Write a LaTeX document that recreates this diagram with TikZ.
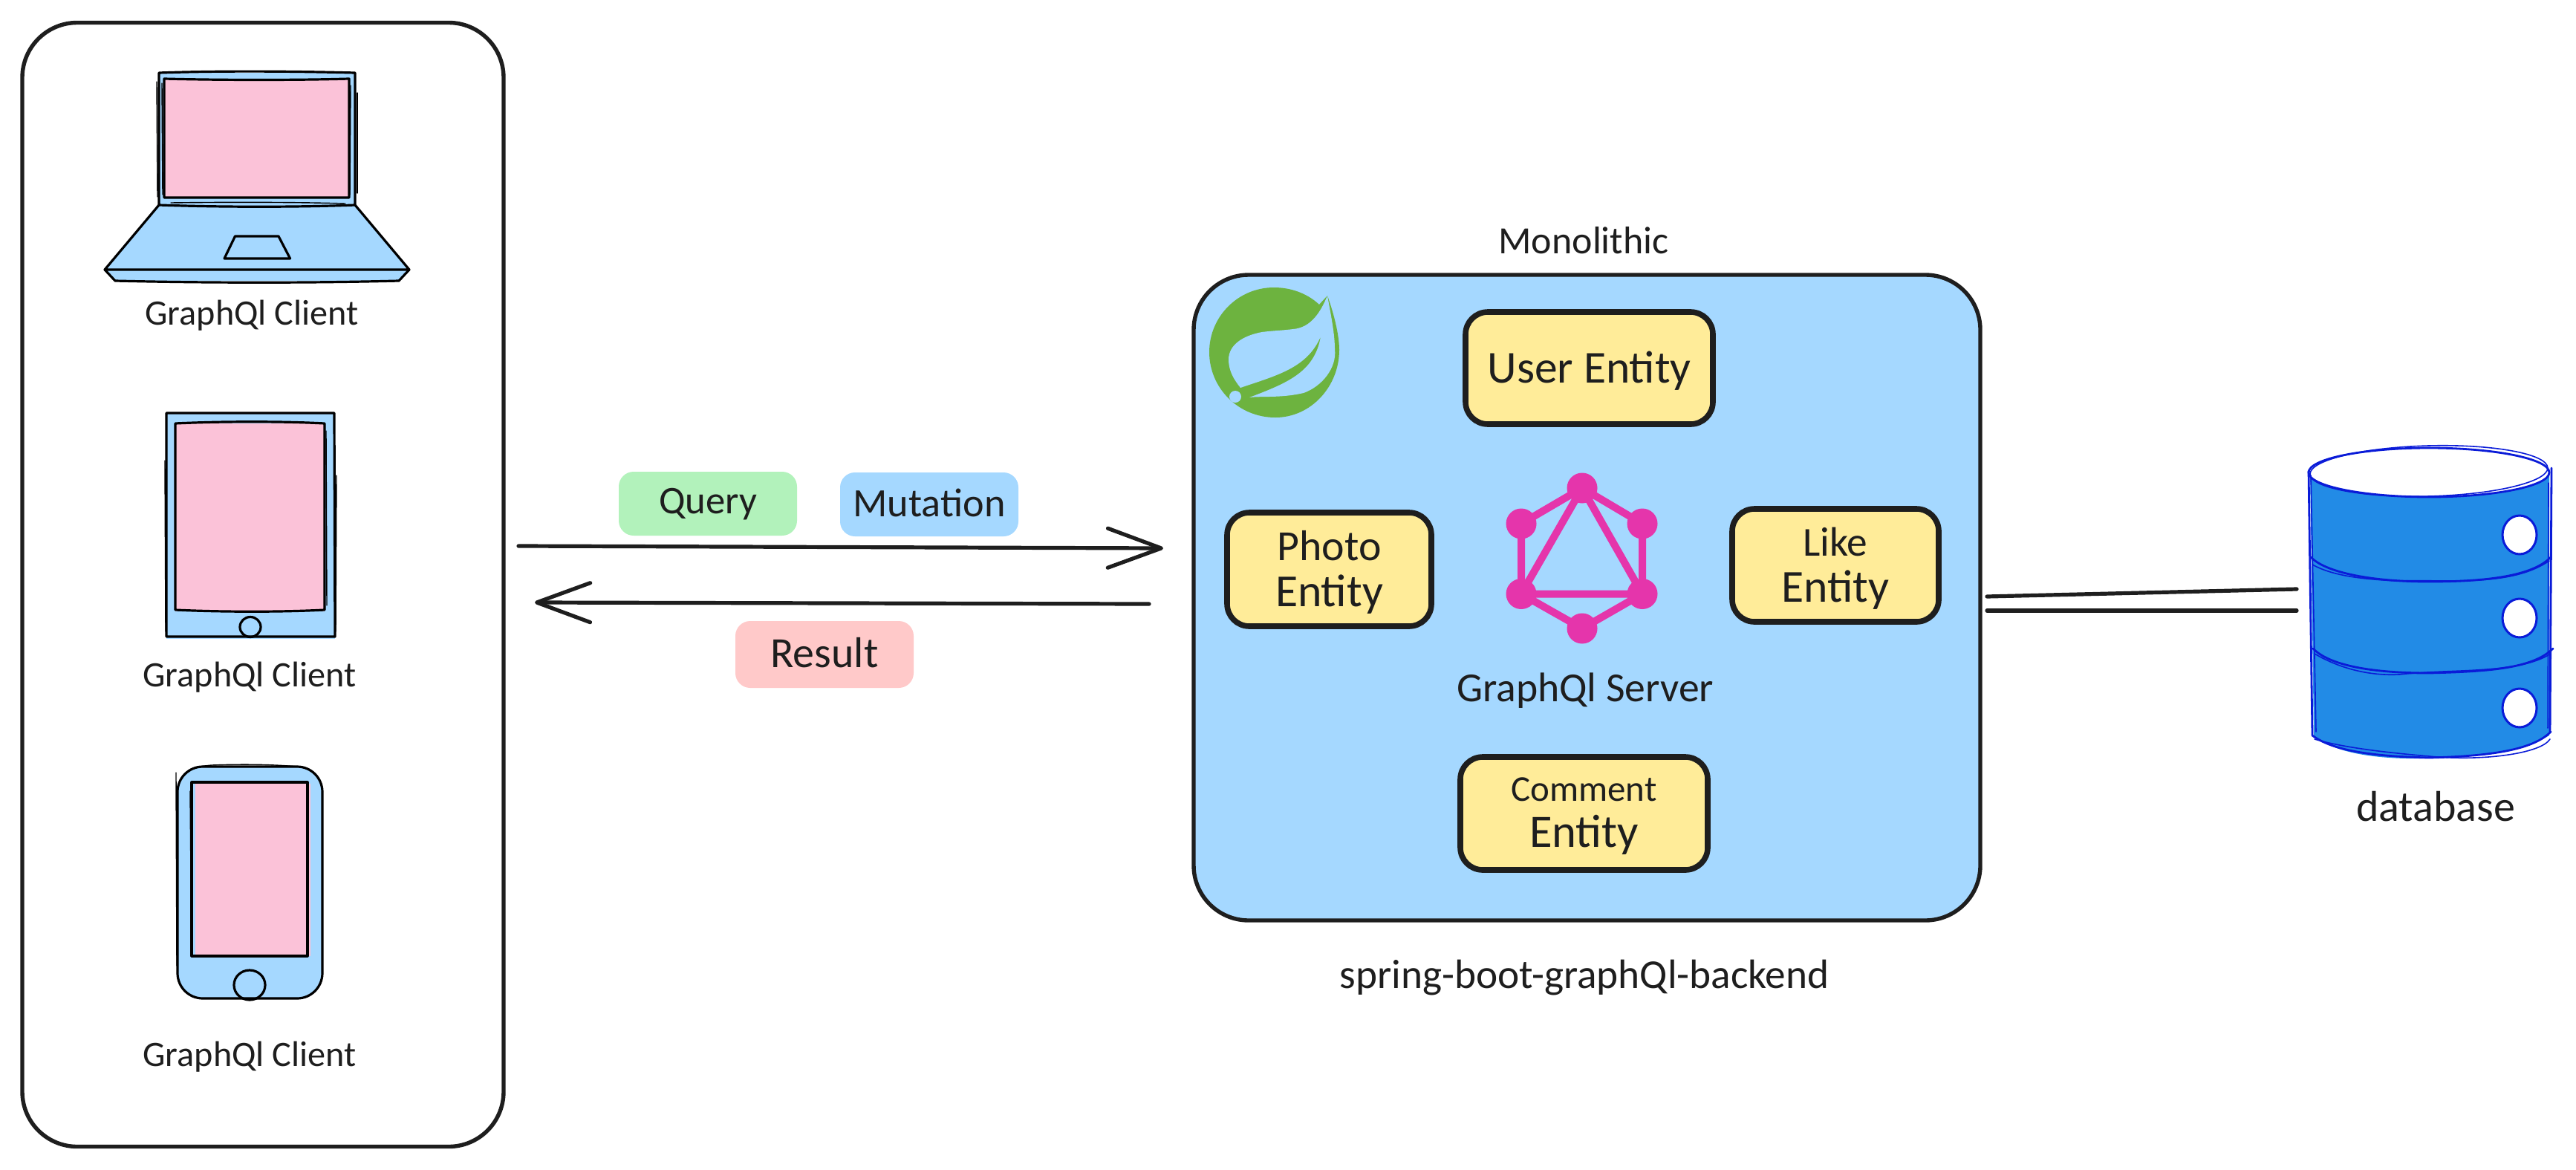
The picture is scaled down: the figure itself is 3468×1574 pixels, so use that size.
\documentclass[tikz,border=0pt]{standalone}
\usepackage{fontspec}
\setmainfont{Carlito}
\usetikzlibrary{arrows.meta}
\definecolor{ink}{HTML}{1E1E1E}
\definecolor{lblue}{HTML}{A5D8FF}
\definecolor{lpink}{HTML}{FBC2D8}
\definecolor{lyellow}{HTML}{FFEC99}
\definecolor{lgreen}{HTML}{B2F2BB}
\definecolor{lred}{HTML}{FFC9C9}
\definecolor{gqlpink}{HTML}{E535AB}
\definecolor{springgreen}{HTML}{6DB33F}
\definecolor{dbfill}{HTML}{228BE6}
\definecolor{dbline}{HTML}{0A1BD8}
\newcommand\twd[2]{\raisebox{-2pt}[\height][\depth]{\resizebox{#1pt}{!}{#2}}}
\tikzset{
  x=0.5pt,y=-0.5pt,
  lbl/.style={anchor=base,inner sep=0pt,text=ink,font=\fontsize{20}{24}\selectfont},
  bigbox/.style={draw=ink,rectangle,inner sep=0pt,line width=2.7pt,rounded corners=37pt},
  entity/.style={draw=ink,fill=lyellow,rectangle,inner sep=0pt,line width=3.8pt,rounded corners=15pt,text=ink,align=center,font=\fontsize{20}{31pt}\selectfont},
  chip/.style={rectangle,inner sep=0pt,rounded corners=10pt,text=ink,minimum width=120pt,font=\fontsize{20}{24}\selectfont,text depth=0pt},
  conn/.style={draw=ink,line width=2.6pt,line cap=round},
  dev/.style={draw=black,line width=1.6pt,line join=round,line cap=round},
  devthin/.style={draw=black,line width=0.7pt,line cap=round},
  gql/.style={draw=gqlpink,line width=5pt},
  gqldot/.style={fill=gqlpink},
  dbs/.style={draw=dbline,line width=1.4pt,line cap=round},
  dbt/.style={draw=dbline,line width=0.8pt,line cap=round},
  bar/.style={-{Straight Barb[length=36pt,width=26.5pt,round]}},
}
\begin{document}
\begin{tikzpicture}
\useasboundingbox (0,0) rectangle (3468,1574);
% ---- clients frame
\node[bigbox,minimum width=324pt,minimum height=756.5pt] (clients) at (354,787) {};
% ---- laptop
\fill[lblue] (214,98) rectangle (478,276);
\fill[lblue] (214,276) -- (478,276) -- (551,363) -- (537,378) -- (155,378) -- (141,363) -- cycle;
\fill[lpink] (221,106) rectangle (470,266);
\draw[dev] (214,98) .. controls (300,95) and (400,96) .. (478,98) -- (478,276) .. controls (400,279) and (300,279) .. (214,276) -- cycle;
\draw[devthin] (211,110) -- (212,265);
\draw[devthin] (481,125) -- (481,260);
\draw[devthin] (230,273) .. controls (300,272) and (400,272) .. (465,274);
\draw[dev] (221,106) .. controls (300,108) and (400,108) .. (470,106) -- (470,266) -- (221,266) -- cycle;
\draw[devthin] (218,112) -- (219,262);
\draw[devthin] (472,115) -- (471,262);
\draw[dev] (214,276) -- (141,363) -- (551,363) -- (478,276);
\draw[dev] (141,363) -- (155,378) .. controls (280,381) and (420,381) .. (537,378) -- (551,363);
\draw[dev] (316.5,318) -- (375,318) -- (390.6,348) -- (302,348) -- cycle;
\node[lbl] (lap) at (339,433) {\twd{143.5}{GraphQl Client}};
% ---- tablet
\fill[lblue] (224,556) rectangle (451,860);
\fill[lpink] (236,570) rectangle (437,823);
\draw[dev] (224,556) -- (450,556) -- (451,857) -- (224,857) -- cycle;
\draw[devthin] (222,620) -- (223,850);
\draw[devthin] (453,640) -- (452,850);
\draw[dev] (236,570) .. controls (300,567) and (380,567) .. (437,570) -- (437,821) .. controls (380,824) and (300,824) .. (236,821) -- cycle;
\draw[devthin] (439,580) -- (440,815);
\draw[dev] (337,844) ellipse [x radius=14,y radius=13.5];
\node[lbl] (tab) at (336,920) {\twd{143.5}{GraphQl Client}};
% ---- phone
\fill[lblue,rounded corners=17pt] (239,1032) rectangle (434,1344);
\fill[lpink] (263,1055) rectangle (418,1287);
\draw[dev,rounded corners=17pt] (239,1032) rectangle (434,1344);
\draw[devthin] (237,1040) -- (238,1300);
\draw[devthin] (240,1058) .. controls (245,1038) and (260,1032) .. (285,1030) .. controls (340,1028) and (380,1030) .. (400,1032);
\draw[dev] (258,1053) rectangle (414,1287);
\draw[devthin] (256,1065) -- (257,1180);
\draw[dev] (336,1326) ellipse [x radius=21,y radius=20];
\node[lbl] (pho) at (336,1431) {\twd{143.5}{GraphQl Client}};
% ---- request / response
\coordinate (reqs) at (698,735);
\coordinate (reqe) at (1566,738);
\coordinate (ress) at (1547,813);
\coordinate (rese) at (720,811);
\node[chip,fill=lgreen,minimum height=43pt,text height=9pt] (query) at (953,678) {\twd{66}{Query}};
\node[chip,fill=lblue,minimum height=43pt,text height=12pt] (mut) at (1251,679) {\twd{102.5}{Mutation}};
\node[chip,fill=lred,minimum height=45pt,text height=13pt] (res) at (1110,881) {\twd{72.5}{Result}};
\draw[conn,bar] (reqs) -- (reqe);
\draw[conn,bar] (ress) -- (rese);
% ---- server
\node[lbl] (mono) at (2132,337) {\twd{114.5}{Monolithic}};
\node[bigbox,fill=lblue,minimum width=529.5pt,minimum height=434.5pt] (server) at (2136.5,804.5) {};
\node[lbl] (name) at (2133,1326) {\twd{329.5}{spring-boot-graphQl-backend}};
% spring logo
\fill[springgreen] (1787,398) -- (1776,410) .. controls (1760,395) and (1738,387) .. (1715,387) .. controls (1667,387) and (1628,426) .. (1628,474) .. controls (1628,522) and (1667,562) .. (1717,562) .. controls (1765,562) and (1803,520) .. (1803,471) .. controls (1803,450) and (1795,420) .. (1787,398) -- cycle;
\fill[lblue] (1787,398) .. controls (1778,420) and (1765,441) .. (1741,443) .. controls (1725,445) and (1715,445) .. (1699,447) .. controls (1672,452) and (1654,465) .. (1654,484) .. controls (1654,500) and (1662,512) .. (1670,522) .. controls (1720,505) and (1760,495) .. (1778,453) .. controls (1770,500) and (1735,515) .. (1682,535) .. controls (1700,533) and (1725,536) .. (1755,529) .. controls (1780,520) and (1800,495) .. (1797,470) .. controls (1797,450) and (1792,425) .. (1787,398) -- cycle;
\fill[lblue] (1663,534) ellipse [x radius=8,y radius=8];
% entities
\node[entity,minimum width=166.5pt,minimum height=75.5pt] (user) at (2139.5,495.5) {\twd{137}{User Entity}};
\node[entity,minimum width=137.5pt,minimum height=76.5pt] (photo) at (1789.5,766.5) {\twd{70}{Photo}\\\twd{72.5}{Entity}};
\node[entity,minimum width=139pt,minimum height=76pt] (like) at (2471,761) {\twd{43.5}{Like}\\\twd{72.5}{Entity}};
\node[entity,minimum width=166.5pt,minimum height=76pt] (comment) at (2132.5,1095) {\twd{98}{Comment}\\\twd{73.5}{Entity}};
% graphql logo
\coordinate (g1) at (2130,657);
\coordinate (g2) at (2211,705);
\coordinate (g3) at (2211,799.5);
\coordinate (g4) at (2130,846);
\coordinate (g5) at (2048,799.5);
\coordinate (g6) at (2048,705);
\draw[gql] (g1) -- (g2) -- (g3) -- (g4) -- (g5) -- (g6) -- cycle;
\draw[gql,line join=round] (g1) -- (g3) -- (g5) -- cycle;
\foreach \p in {g1,g2,g3,g4,g5,g6} \fill[gqldot] (\p) circle [radius=20.5];
\node[lbl] (gqls) at (2134,940) {\twd{173}{GraphQl Server}};
% ---- database
\coordinate (l1a) at (2675,803);
\coordinate (l1b) at (3092,793);
\coordinate (l2a) at (2675,822);
\coordinate (l2b) at (3092,822);
\draw[conn] (l1a) -- (l1b);
\draw[conn] (l2a) -- (l2b);
\fill[dbfill] (3110,634) -- (3432,634) -- (3432,990) .. controls (3390,1015) and (3300,1022) .. (3240,1021) .. controls (3190,1020) and (3140,1012) .. (3115,990) -- cycle;
\fill[white] (3270,636) ellipse [x radius=161,y radius=33];
\draw[dbs] (3270,636) ellipse [x radius=162,y radius=33];
\draw[dbt,rotate around={1.5:(3270,636)}] (3270,634) ellipse [x radius=160,y radius=34];
\draw[dbs] (3108,634) -- (3113,990);
\draw[dbt] (3111,640) -- (3118,985);
\draw[dbs] (3435,630) -- (3433,985);
\draw[dbt] (3431,650) -- (3430,980);
\draw[dbs] (3111,750) .. controls (3130,770) and (3190,783) .. (3270,783) .. controls (3350,783) and (3410,775) .. (3434,750);
\draw[dbt] (3113,760) .. controls (3140,775) and (3180,780) .. (3230,782) .. controls (3300,780) and (3380,790) .. (3432,755);
\draw[dbs] (3114,873) .. controls (3135,895) and (3190,906) .. (3270,906) .. controls (3350,904) and (3410,900) .. (3437,873);
\draw[dbt] (3116,880) .. controls (3150,900) and (3190,910) .. (3230,908) .. controls (3300,900) and (3390,908) .. (3434,880);
\draw[dbs] (3113,990) .. controls (3140,1010) and (3190,1018) .. (3270,1020) .. controls (3350,1018) and (3410,1010) .. (3434,985);
\draw[dbt] (3116,995) .. controls (3150,1005) and (3200,1012) .. (3270,1018) .. controls (3340,1025) and (3420,1015) .. (3433,995);
\foreach \cy in {720,832,953} {
  \filldraw[draw=dbline,fill=white,line width=1.5pt] (3392,\cy) ellipse [x radius=23,y radius=26];
}
\node[lbl] (db) at (3279,1101) {\twd{107}{database}};
\end{tikzpicture}
\end{document}
